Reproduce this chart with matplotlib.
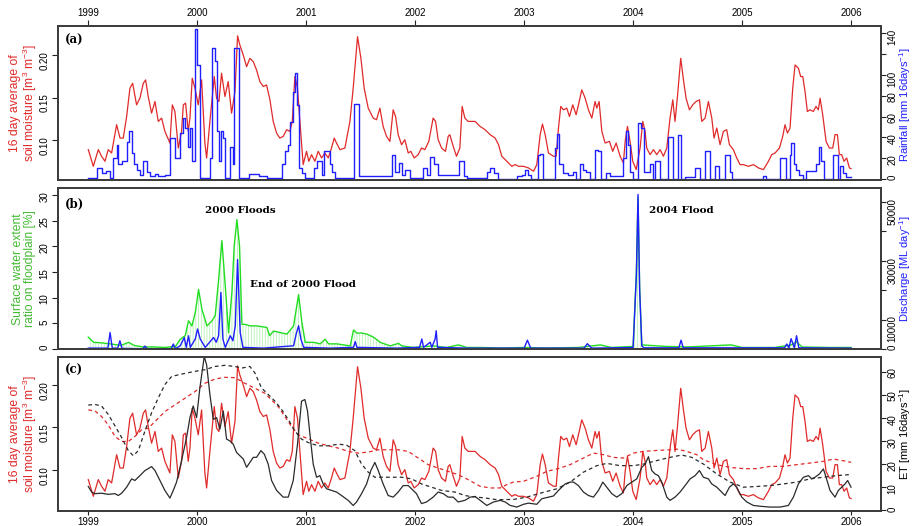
import numpy as np
import matplotlib
matplotlib.use("Agg")
import matplotlib.pyplot as plt

plt.rcParams['font.family'] = ['Liberation Sans', 'DejaVu Sans']
plt.rcParams['mathtext.default'] = 'regular'
plt.rcParams['hatch.linewidth'] = 0.5

# ---- data (decimal year, value) ----
soil_moisture = [
    (1999.000, 0.0887), (1999.046, 0.0691), (1999.092, 0.0887), (1999.122, 0.0809), (1999.153, 0.0750),
    (1999.183, 0.0887), (1999.214, 0.0848), (1999.260, 0.1180), (1999.291, 0.1023), (1999.321, 0.1023),
    (1999.352, 0.1277), (1999.382, 0.1609), (1999.407, 0.1668), (1999.443, 0.1414), (1999.474, 0.1492),
    (1999.505, 0.1668), (1999.526, 0.1707), (1999.550, 0.1512), (1999.581, 0.1316), (1999.612, 0.1453),
    (1999.642, 0.1219), (1999.673, 0.1258), (1999.703, 0.1102), (1999.749, 0.0965), (1999.771, 0.1414),
    (1999.795, 0.1336), (1999.826, 0.0906), (1999.856, 0.1102), (1999.872, 0.1414), (1999.893, 0.1434),
    (1999.917, 0.1102), (1999.933, 0.1258), (1999.954, 0.1727), (1999.979, 0.1609), (2000.009, 0.1414),
    (2000.040, 0.1707), (2000.070, 0.0965), (2000.086, 0.0789), (2000.116, 0.1219), (2000.156, 0.1746),
    (2000.177, 0.1492), (2000.199, 0.1453), (2000.223, 0.1785), (2000.254, 0.1512), (2000.284, 0.1687),
    (2000.315, 0.1316), (2000.346, 0.1570), (2000.370, 0.2225), (2000.391, 0.2117), (2000.422, 0.2000),
    (2000.453, 0.1863), (2000.483, 0.1961), (2000.514, 0.1922), (2000.544, 0.1824), (2000.575, 0.1687),
    (2000.606, 0.1629), (2000.636, 0.1648), (2000.667, 0.1473), (2000.697, 0.1219), (2000.728, 0.1082),
    (2000.758, 0.1023), (2000.789, 0.1043), (2000.820, 0.1121), (2000.850, 0.1102), (2000.872, 0.1219),
    (2000.896, 0.1746), (2000.920, 0.1609), (2000.942, 0.1219), (2000.972, 0.0711), (2001.003, 0.0867),
    (2001.024, 0.0750), (2001.049, 0.0828), (2001.080, 0.0750), (2001.110, 0.0867), (2001.141, 0.0789),
    (2001.171, 0.0848), (2001.202, 0.0789), (2001.232, 0.0906), (2001.257, 0.1023), (2001.278, 0.0965),
    (2001.309, 0.0887), (2001.355, 0.0906), (2001.401, 0.1219), (2001.431, 0.1609), (2001.471, 0.2215),
    (2001.502, 0.1961), (2001.532, 0.1609), (2001.569, 0.1375), (2001.615, 0.1258), (2001.645, 0.1238),
    (2001.676, 0.1375), (2001.706, 0.1160), (2001.737, 0.1043), (2001.768, 0.0984), (2001.798, 0.1355),
    (2001.820, 0.1277), (2001.844, 0.1063), (2001.875, 0.0945), (2001.905, 0.1004), (2001.936, 0.0848),
    (2001.960, 0.0867), (2001.991, 0.0789), (2002.028, 0.0828), (2002.058, 0.0906), (2002.089, 0.0887),
    (2002.125, 0.0984), (2002.165, 0.1258), (2002.187, 0.1219), (2002.211, 0.1004), (2002.242, 0.0906),
    (2002.278, 0.0867), (2002.303, 0.1043), (2002.318, 0.1063), (2002.349, 0.0926), (2002.379, 0.0809),
    (2002.410, 0.0906), (2002.431, 0.1395), (2002.456, 0.1258), (2002.486, 0.1219), (2002.550, 0.1219),
    (2002.596, 0.1160), (2002.642, 0.1121), (2002.688, 0.1063), (2002.734, 0.1023), (2002.765, 0.0945),
    (2002.795, 0.0809), (2002.841, 0.0750), (2002.887, 0.0691), (2002.917, 0.0711), (2002.948, 0.0691),
    (2002.994, 0.0691), (2003.040, 0.0672), (2003.086, 0.0633), (2003.116, 0.0711), (2003.147, 0.1063),
    (2003.168, 0.1188), (2003.193, 0.1063), (2003.223, 0.0848), (2003.269, 0.0809), (2003.294, 0.0809),
    (2003.315, 0.1141), (2003.336, 0.1395), (2003.361, 0.1355), (2003.391, 0.1375), (2003.416, 0.1277),
    (2003.446, 0.1414), (2003.477, 0.1297), (2003.502, 0.1434), (2003.529, 0.1590), (2003.560, 0.1492),
    (2003.590, 0.1355), (2003.621, 0.1258), (2003.651, 0.1453), (2003.667, 0.1375), (2003.688, 0.1453),
    (2003.713, 0.1102), (2003.743, 0.0965), (2003.783, 0.0984), (2003.813, 0.0867), (2003.844, 0.0965),
    (2003.881, 0.0809), (2003.911, 0.0730), (2003.927, 0.0984), (2003.948, 0.1160), (2003.972, 0.0984),
    (2003.997, 0.0750), (2004.028, 0.0652), (2004.064, 0.0906), (2004.089, 0.1219), (2004.110, 0.1102),
    (2004.125, 0.0906), (2004.156, 0.0828), (2004.187, 0.0887), (2004.217, 0.0828), (2004.248, 0.0887),
    (2004.278, 0.0809), (2004.309, 0.0906), (2004.339, 0.1258), (2004.364, 0.1473), (2004.385, 0.1219),
    (2004.407, 0.1512), (2004.437, 0.1961), (2004.462, 0.1707), (2004.486, 0.1492), (2004.517, 0.1355),
    (2004.547, 0.1414), (2004.578, 0.1453), (2004.609, 0.1473), (2004.630, 0.1219), (2004.661, 0.1258),
    (2004.691, 0.1453), (2004.722, 0.1258), (2004.743, 0.1023), (2004.768, 0.1141), (2004.798, 0.0945),
    (2004.829, 0.1102), (2004.859, 0.1121), (2004.884, 0.0945), (2004.920, 0.0887), (2004.951, 0.0789),
    (2004.982, 0.0711), (2005.012, 0.0711), (2005.058, 0.0691), (2005.104, 0.0711), (2005.150, 0.0672),
    (2005.196, 0.0652), (2005.242, 0.0750), (2005.272, 0.0828), (2005.303, 0.0848), (2005.343, 0.0906),
    (2005.373, 0.1043), (2005.394, 0.1180), (2005.416, 0.1082), (2005.440, 0.1141), (2005.465, 0.1609),
    (2005.486, 0.1883), (2005.517, 0.1844), (2005.538, 0.1746), (2005.557, 0.1746), (2005.578, 0.1570),
    (2005.599, 0.1336), (2005.624, 0.1355), (2005.654, 0.1336), (2005.679, 0.1395), (2005.700, 0.1355),
    (2005.716, 0.1492), (2005.740, 0.1297), (2005.771, 0.0984), (2005.801, 0.0906), (2005.832, 0.0906),
    (2005.853, 0.1063), (2005.875, 0.1063), (2005.893, 0.0828), (2005.914, 0.0828), (2005.936, 0.0750),
    (2005.960, 0.0789), (2005.985, 0.0672), (2006.000, 0.0664),
]

# mean soil moisture (dashed red, panel c)
soil_moisture_mean = [
    (1999.000, 0.1707), (1999.061, 0.1695), (1999.122, 0.1629), (1999.183, 0.1531), (1999.245, 0.1395),
    (1999.306, 0.1336), (1999.367, 0.1336), (1999.428, 0.1395), (1999.489, 0.1473), (1999.550, 0.1492),
    (1999.612, 0.1570), (1999.703, 0.1688), (1999.795, 0.1766), (1999.887, 0.1844), (1999.979, 0.1922),
    (2000.070, 0.2020), (2000.162, 0.2070), (2000.254, 0.2090), (2000.346, 0.2086), (2000.437, 0.2020),
    (2000.529, 0.1961), (2000.621, 0.1902), (2000.682, 0.1824), (2000.743, 0.1746), (2000.804, 0.1629),
    (2000.865, 0.1512), (2000.927, 0.1414), (2001.018, 0.1367), (2001.110, 0.1316), (2001.202, 0.1285),
    (2001.294, 0.1258), (2001.385, 0.1219), (2001.477, 0.1199), (2001.569, 0.1211), (2001.661, 0.1238),
    (2001.752, 0.1238), (2001.844, 0.1238), (2001.936, 0.1219), (2002.028, 0.1141), (2002.119, 0.1063),
    (2002.211, 0.1023), (2002.303, 0.0984), (2002.394, 0.0945), (2002.486, 0.0887), (2002.596, 0.0809),
    (2002.688, 0.0789), (2002.780, 0.0789), (2002.841, 0.0828), (2002.902, 0.0859), (2002.994, 0.0867),
    (2003.116, 0.0926), (2003.208, 0.0984), (2003.330, 0.1023), (2003.422, 0.1063), (2003.544, 0.1141),
    (2003.636, 0.1199), (2003.728, 0.1180), (2003.820, 0.1148), (2003.911, 0.1141), (2004.003, 0.1199),
    (2004.095, 0.1219), (2004.217, 0.1230), (2004.339, 0.1238), (2004.401, 0.1246), (2004.492, 0.1219),
    (2004.584, 0.1180), (2004.645, 0.1121), (2004.768, 0.1063), (2004.890, 0.1031), (2005.012, 0.1016),
    (2005.135, 0.1016), (2005.257, 0.1043), (2005.379, 0.1043), (2005.502, 0.1063), (2005.624, 0.1082),
    (2005.746, 0.1102), (2005.838, 0.1129), (2005.930, 0.1109), (2006.000, 0.1090),
]

# 16-day rainfall (mm), value holds from the given date on
rainfall = [
    (1999.000, 1), (1999.076, 11), (1999.122, 6), (1999.159, 8), (1999.199, 1), (1999.229, 20),
    (1999.260, 33), (1999.275, 14), (1999.306, 17), (1999.352, 36), (1999.373, 46), (1999.398, 25),
    (1999.422, 14), (1999.443, 9), (1999.474, 4), (1999.505, 17), (1999.535, 7), (1999.566, 3),
    (1999.612, 5), (1999.642, 3), (1999.703, 4), (1999.749, 39), (1999.795, 20), (1999.841, 44),
    (1999.865, 59), (1999.887, 49), (1999.911, 31), (1999.933, 49), (1999.954, 17), (1999.979, 144),
    (1999.994, 110), (2000.024, 1), (2000.120, 20), (2000.135, 126), (2000.166, 113), (2000.181, 46),
    (2000.196, 17), (2000.218, 46), (2000.236, 39), (2000.257, 1), (2000.297, 31), (2000.328, 14),
    (2000.340, 126), (2000.380, 1), (2000.471, 5), (2000.563, 3), (2000.640, 1), (2000.777, 14),
    (2000.808, 27), (2000.829, 33), (2000.854, 55), (2000.878, 84), (2000.893, 102), (2000.915, 71),
    (2000.936, 11), (2000.961, 6), (2000.991, 1), (2001.068, 11), (2001.098, 17), (2001.144, 4),
    (2001.166, 27), (2001.214, 14), (2001.236, 7), (2001.267, 1), (2001.435, 72), (2001.481, 3),
    (2001.786, 23), (2001.817, 7), (2001.848, 15), (2001.878, 4), (2001.909, 9), (2001.955, 1),
    (2002.071, 11), (2002.107, 4), (2002.138, 21), (2002.169, 14), (2002.205, 4), (2002.398, 17),
    (2002.444, 3), (2002.474, 1), (2002.658, 7), (2002.689, 11), (2002.719, 6), (2002.761, 0),
    (2002.930, 3), (2002.976, 4), (2003.006, 9), (2003.037, 4), (2003.067, 0), (2003.128, 23),
    (2003.144, 24), (2003.174, 0), (2003.281, 30), (2003.303, 43), (2003.321, 14), (2003.352, 6),
    (2003.404, 4), (2003.450, 7), (2003.480, 0), (2003.511, 14), (2003.541, 9), (2003.572, 7),
    (2003.602, 0), (2003.648, 28), (2003.679, 27), (2003.709, 0), (2003.749, 6), (2003.786, 3),
    (2003.908, 20), (2003.933, 46), (2003.954, 33), (2003.969, 7), (2004.000, 0), (2004.046, 54),
    (2004.076, 49), (2004.098, 7), (2004.153, 14), (2004.183, 0), (2004.199, 17), (2004.245, 0),
    (2004.321, 40), (2004.367, 0), (2004.413, 42), (2004.443, 0), (2004.474, 2), (2004.566, 11),
    (2004.612, 0), (2004.657, 27), (2004.703, 0), (2004.749, 12), (2004.789, 0), (2004.841, 23),
    (2004.887, 7), (2004.911, 0), (2005.193, 3), (2005.223, 0), (2005.352, 20), (2005.401, 0),
    (2005.437, 23), (2005.453, 35), (2005.474, 14), (2005.498, 9), (2005.523, 4), (2005.560, 0),
    (2005.584, 8), (2005.682, 14), (2005.706, 31), (2005.728, 17), (2005.749, 0), (2005.835, 23),
    (2005.881, 0), (2005.902, 12), (2005.927, 6), (2005.957, 2), (2006.000, 2),
]

# surface water extent ratio on floodplain (%)
surface_water = [
    (1999.000, 2.3), (1999.050, 1.3), (1999.120, 1.2), (1999.200, 1.0), (1999.300, 0.7), (1999.370, 1.3),
    (1999.420, 0.7), (1999.500, 0.4), (1999.600, 0.4), (1999.700, 0.3), (1999.800, 0.5), (1999.844, 1.9),
    (1999.890, 2.6), (1999.920, 5.5), (1999.951, 4.5), (1999.982, 7.1), (2000.012, 11.6), (2000.043, 7.7),
    (2000.089, 4.5), (2000.135, 5.5), (2000.165, 6.5), (2000.196, 13.5), (2000.226, 21.1), (2000.257, 12.3),
    (2000.287, 3.2), (2000.318, 11.0), (2000.339, 20.0), (2000.364, 25.2), (2000.388, 20.0), (2000.410, 4.8),
    (2000.440, 4.8), (2000.486, 4.5), (2000.547, 4.5), (2000.639, 4.2), (2000.664, 2.6), (2000.700, 3.5),
    (2000.761, 3.2), (2000.823, 2.9), (2000.884, 4.5), (2000.930, 10.6), (2000.960, 5.2), (2000.991, 1.3),
    (2001.067, 1.3), (2001.128, 1.0), (2001.174, 1.9), (2001.205, 1.0), (2001.281, 1.0), (2001.404, 0.6),
    (2001.434, 3.7), (2001.465, 3.1), (2001.511, 3.1), (2001.557, 2.9), (2001.618, 2.3), (2001.679, 1.3),
    (2001.771, 0.6), (2001.847, 1.1), (2001.878, 0.6), (2001.985, 0.3), (2002.168, 0.6), (2002.290, 0.3),
    (2002.397, 0.8), (2002.474, 0.3), (2002.596, 0.3), (2002.800, 0.2), (2003.000, 0.3), (2003.200, 0.2),
    (2003.500, 0.3), (2003.700, 0.8), (2003.800, 0.3), (2004.000, 0.5), (2004.030, 15.0), (2004.045, 29.5),
    (2004.060, 12.0), (2004.080, 0.8), (2004.300, 0.5), (2004.500, 0.4), (2004.900, 0.8), (2005.000, 0.3),
    (2005.300, 0.3), (2005.450, 0.8), (2005.500, 1.4), (2005.550, 0.4), (2005.800, 0.3), (2006.000, 0.3),
]

# river discharge (ML/day)
discharge = [
    (1999.000, 300), (1999.180, 300), (1999.200, 5600), (1999.220, 300), (1999.270, 300), (1999.290, 2800),
    (1999.310, 200), (1999.500, 100), (1999.520, 1000), (1999.540, 100), (1999.760, 100), (1999.780, 1700),
    (1999.800, 100), (1999.844, 1100), (1999.881, 3900), (1999.899, 560), (1999.920, 4500), (1999.936, 560),
    (1999.982, 3400), (2000.003, 6800), (2000.027, 3400), (2000.073, 560), (2000.150, 3900), (2000.174, 2300),
    (2000.196, 4500), (2000.217, 19200), (2000.235, 3400), (2000.257, 560), (2000.303, 4500), (2000.327, 2800),
    (2000.349, 7900), (2000.370, 30400), (2000.394, 5600), (2000.419, 560), (2000.608, 300), (2000.884, 1100),
    (2000.908, 5100), (2000.930, 7900), (2000.951, 3400), (2000.976, 560), (2001.220, 300), (2001.434, 560),
    (2001.450, 2500), (2001.465, 560), (2001.832, 300), (2002.040, 560), (2002.061, 3400), (2002.077, 560),
    (2002.138, 2300), (2002.153, 560), (2002.183, 3400), (2002.193, 6200), (2002.205, 560), (2002.474, 300),
    (2002.800, 300), (2003.000, 300), (2003.030, 3000), (2003.060, 300), (2003.550, 300), (2003.580, 1800),
    (2003.620, 300), (2004.000, 500), (2004.030, 25000), (2004.045, 52500), (2004.060, 20000), (2004.080, 1000),
    (2004.100, 400), (2004.420, 400), (2004.440, 3000), (2004.460, 400), (2005.390, 400), (2005.410, 1700),
    (2005.430, 400), (2005.450, 3500), (2005.480, 400), (2005.500, 4500), (2005.520, 400), (2006.000, 300),
]

# evapotranspiration (mm/16 days)
et = [
    (1999.000, 10.3), (1999.031, 7.9), (1999.061, 7.2), (1999.122, 7.4), (1999.183, 6.9), (1999.245, 7.2),
    (1999.275, 6.4), (1999.306, 7.4), (1999.352, 10.0), (1999.398, 13.6), (1999.428, 12.9), (1999.474, 15.0),
    (1999.520, 17.2), (1999.581, 18.9), (1999.612, 17.2), (1999.657, 12.9), (1999.703, 8.6), (1999.749, 5.3),
    (1999.780, 8.6), (1999.810, 12.2), (1999.856, 21.5), (1999.902, 31.5), (1999.933, 40.1), (1999.963, 45.1),
    (1999.994, 40.1), (2000.024, 52.9), (2000.064, 66.5), (2000.086, 62.9), (2000.116, 50.1), (2000.147, 39.3),
    (2000.177, 40.1), (2000.208, 35.1), (2000.239, 42.9), (2000.269, 30.8), (2000.300, 30.0), (2000.330, 28.6),
    (2000.361, 25.0), (2000.391, 23.6), (2000.422, 22.2), (2000.453, 18.6), (2000.483, 20.7), (2000.514, 22.9),
    (2000.544, 22.9), (2000.584, 25.8), (2000.615, 24.3), (2000.651, 20.0), (2000.682, 12.9), (2000.728, 8.6),
    (2000.789, 5.7), (2000.835, 5.7), (2000.881, 12.9), (2000.920, 28.6), (2000.957, 47.2), (2000.988, 47.9),
    (2001.012, 42.9), (2001.034, 32.9), (2001.064, 20.0), (2001.095, 14.3), (2001.125, 15.0), (2001.156, 11.4),
    (2001.187, 9.3), (2001.232, 8.6), (2001.278, 7.9), (2001.324, 6.4), (2001.385, 4.3), (2001.431, 2.1),
    (2001.462, 3.6), (2001.508, 7.2), (2001.554, 11.4), (2001.593, 17.2), (2001.630, 20.7), (2001.661, 17.2),
    (2001.706, 11.4), (2001.752, 6.4), (2001.798, 5.7), (2001.844, 7.9), (2001.890, 10.7), (2001.936, 10.7),
    (2001.982, 8.6), (2002.012, 7.2), (2002.058, 2.9), (2002.104, 3.6), (2002.165, 5.7), (2002.211, 7.9),
    (2002.257, 7.2), (2002.303, 5.7), (2002.349, 5.7), (2002.394, 3.6), (2002.456, 4.3), (2002.505, 5.7),
    (2002.550, 6.0), (2002.596, 4.3), (2002.657, 2.1), (2002.719, 3.6), (2002.780, 4.3), (2002.826, 3.6),
    (2002.872, 2.1), (2002.933, 1.4), (2002.994, 2.6), (2003.040, 3.1), (2003.116, 2.6), (2003.162, 5.0),
    (2003.223, 5.7), (2003.269, 6.2), (2003.315, 8.6), (2003.376, 11.4), (2003.422, 12.2), (2003.453, 12.2),
    (2003.498, 10.7), (2003.544, 7.9), (2003.590, 6.4), (2003.636, 5.7), (2003.682, 8.6), (2003.722, 12.2),
    (2003.758, 10.0), (2003.804, 7.2), (2003.850, 5.7), (2003.896, 7.2), (2003.942, 10.7), (2003.988, 12.2),
    (2004.034, 13.6), (2004.080, 18.6), (2004.110, 20.0), (2004.141, 23.2), (2004.171, 17.2), (2004.202, 15.7),
    (2004.232, 15.0), (2004.263, 12.2), (2004.309, 5.7), (2004.339, 4.3), (2004.385, 5.7), (2004.431, 7.9),
    (2004.477, 10.7), (2004.523, 13.6), (2004.569, 15.0), (2004.609, 17.2), (2004.645, 14.3), (2004.691, 13.6),
    (2004.722, 11.4), (2004.768, 10.0), (2004.813, 7.9), (2004.844, 6.4), (2004.884, 10.0), (2004.920, 11.4),
    (2004.951, 10.0), (2004.997, 5.7), (2005.043, 3.6), (2005.104, 2.1), (2005.180, 1.7), (2005.257, 1.4),
    (2005.349, 1.4), (2005.425, 2.1), (2005.471, 5.7), (2005.517, 11.4), (2005.563, 14.3), (2005.609, 15.0),
    (2005.639, 13.6), (2005.670, 14.3), (2005.709, 15.7), (2005.746, 17.9), (2005.771, 14.3), (2005.807, 8.6),
    (2005.853, 5.7), (2005.884, 8.6), (2005.914, 10.0), (2005.945, 11.4), (2005.969, 12.9), (2006.000, 10.0),
]

# mean ET (dashed black, panel c)
et_mean = [
    (1999.000, 45.5), (1999.061, 45.8), (1999.122, 45.1), (1999.183, 41.5), (1999.245, 36.5), (1999.306, 31.5),
    (1999.367, 25.8), (1999.413, 23.6), (1999.459, 25.8), (1999.520, 34.3), (1999.581, 42.2), (1999.642, 48.6),
    (1999.703, 54.4), (1999.765, 57.9), (1999.856, 58.9), (1999.979, 60.1), (2000.070, 60.8), (2000.162, 62.2),
    (2000.254, 62.7), (2000.346, 62.2), (2000.407, 61.5), (2000.483, 62.2), (2000.529, 59.4), (2000.590, 52.9),
    (2000.651, 50.1), (2000.713, 47.2), (2000.774, 43.6), (2000.835, 39.3), (2000.896, 34.3), (2000.957, 30.8),
    (2001.018, 29.3), (2001.110, 27.9), (2001.202, 27.9), (2001.294, 28.6), (2001.370, 28.2), (2001.446, 25.8),
    (2001.508, 20.0), (2001.569, 16.5), (2001.630, 14.3), (2001.752, 14.3), (2001.875, 14.3), (2001.966, 13.6),
    (2002.058, 11.4), (2002.150, 10.0), (2002.242, 8.6), (2002.364, 7.9), (2002.456, 6.4), (2002.505, 6.0),
    (2002.627, 5.4), (2002.749, 4.6), (2002.902, 4.7), (2003.024, 5.7), (2003.147, 7.4), (2003.300, 9.3),
    (2003.422, 12.2), (2003.544, 16.5), (2003.667, 19.3), (2003.758, 20.3), (2003.881, 19.3), (2004.003, 19.3),
    (2004.095, 20.0), (2004.217, 21.5), (2004.339, 22.9), (2004.446, 23.9), (2004.538, 22.9), (2004.645, 20.0),
    (2004.768, 15.7), (2004.890, 12.2), (2005.012, 10.0), (2005.135, 10.3), (2005.257, 10.7), (2005.379, 11.4),
    (2005.502, 12.2), (2005.624, 13.6), (2005.746, 14.3), (2005.869, 15.0), (2006.000, 15.5),
]

years = [1999, 2000, 2001, 2002, 2003, 2004, 2005, 2006]

sm_t, sm_v = np.array(soil_moisture).T
smm_t, smm_v = np.array(soil_moisture_mean).T
rain_t, rain_v = np.array(rainfall).T
sw_t, sw_v = np.array(surface_water).T
q_t, q_v = np.array(discharge).T
et_t, et_v = np.array(et).T
etm_t, etm_v = np.array(et_mean).T

RED = '#e02a2a'
BLUE = '#1f1fff'
GREEN = '#22dd22'
BLACK = '#2a2a2a'
FRAME = '#3c3c3c'
sm_label = '16 day average of\nsoil moisture [m$^3$ m$^{-3}$]'


def style(ax):
    for s in ax.spines.values():
        s.set_color(FRAME)
        s.set_linewidth(1.3)
    ax.tick_params(length=4, width=0.8, color='#222222', labelsize=7, pad=2)
    ax.tick_params(axis='y', labelrotation=90)


def no_x(ax):
    ax.tick_params(axis='x', which='both', bottom=False, top=False,
                   labelbottom=False, labeltop=False)


fig = plt.figure(figsize=(9.13, 5.26), dpi=100)
W, H = 913.0, 526.0
left, width = 58 / W, 823 / W
ax_a = fig.add_axes([left, 1 - 180 / H, width, 154 / H])
ax_b = fig.add_axes([left, 1 - 349 / H, width, 161 / H])
ax_c = fig.add_axes([left, 1 - 511 / H, width, 154 / H])
xlim = (1998.722, 2006.275)

# ---- (a) soil moisture and rainfall ----
ax_a.plot(sm_t, sm_v, color=RED, lw=0.9)
ax_a.set_xlim(xlim)
ax_a.set_ylim(0.053, 0.2341)
ax_a.set_yticks([0.10, 0.15, 0.20])
ax_a.set_yticklabels(['0.10', '0.15', '0.20'])
ax_a.set_xticks(years)
ax_a.set_xticklabels([str(y) for y in years])
style(ax_a)
ax_a.tick_params(axis='x', bottom=False, labelbottom=False, top=True, labeltop=True)
ax_a2 = ax_a.twinx()
ax_a2.plot(rain_t, rain_v, color=BLUE, lw=1.0, drawstyle='steps-post')
ax_a2.set_ylim(-1, 147)
ax_a2.set_yticks([0, 20, 40, 60, 80, 100, 120, 140])
ax_a2.set_yticklabels(['0', '20', '40', '60', '80', '100', '', '140'])
style(ax_a2)
no_x(ax_a2)
ax_a.text(0.008, 0.905, '(a)', transform=ax_a.transAxes, family='DejaVu Serif',
          fontweight='bold', fontsize=8.5, va='center')

# ---- (b) surface water and discharge ----
ax_b.fill_between(sw_t, 0, sw_v, facecolor='none', edgecolor='#a9efa9',
                  hatch='||||||', linewidth=0)
ax_b.plot(sw_t, sw_v, color=GREEN, lw=1.0)
ax_b.set_xlim(xlim)
ax_b.set_ylim(0, 31.35)
ax_b.set_yticks([0, 5, 10, 15, 20, 25, 30])
style(ax_b)
no_x(ax_b)
ax_b2 = ax_b.twinx()
ax_b2.plot(q_t, q_v, color=BLUE, lw=1.0)
ax_b2.set_ylim(0, 54700)
ax_b2.set_yticks([0, 10000, 20000, 30000, 40000, 50000])
ax_b2.set_yticklabels(['0', '10000', '', '30000', '', '50000'])
style(ax_b2)
no_x(ax_b2)
ax_b.text(0.008, 0.90, '(b)', transform=ax_b.transAxes, family='DejaVu Serif',
          fontweight='bold', fontsize=8.5, va='center')
ann = dict(family='DejaVu Serif', fontweight='bold', fontsize=7.5, ha='center', va='center')
ax_b.text(2000.394, 26.9, '2000 Floods', **ann)
ax_b.text(2000.972, 12.6, 'End of 2000 Flood', **ann)
ax_b.text(2004.44, 26.9, '2004 Flood', **ann)

# ---- (c) soil moisture and ET ----
ax_c.plot(smm_t, smm_v, color=RED, lw=0.9, ls=(0, (3, 2.5)))
ax_c.plot(sm_t, sm_v, color=RED, lw=0.9)
ax_c.set_xlim(xlim)
ax_c.set_ylim(0.0518, 0.2329)
ax_c.set_yticks([0.10, 0.15, 0.20])
ax_c.set_yticklabels(['0.10', '0.15', '0.20'])
ax_c.set_xticks(years)
ax_c.set_xticklabels([str(y) for y in years])
style(ax_c)
ax_c.tick_params(axis='x', length=3, pad=1)
ax_c2 = ax_c.twinx()
ax_c2.plot(etm_t, etm_v, color=BLACK, lw=0.9, ls=(0, (3, 2.5)))
ax_c2.plot(et_t, et_v, color=BLACK, lw=0.9)
ax_c2.set_ylim(-0.3, 66.3)
ax_c2.set_yticks([0, 10, 20, 30, 40, 50, 60])
style(ax_c2)
no_x(ax_c2)
ax_c.text(0.008, 0.915, '(c)', transform=ax_c.transAxes, family='DejaVu Serif',
          fontweight='bold', fontsize=8.5, va='center')

for ax in (ax_a2, ax_b2, ax_c2):
    ax.tick_params(axis='y', length=3.5, pad=1.2)

# ---- axis titles ----
lab = dict(rotation=90, ha='center', va='center', fontsize=8.7, linespacing=1.05)
rlab = dict(rotation=90, ha='center', va='center', fontsize=8)
fig.text(24 / W, 1 - 103 / H, sm_label, color=RED, **lab)
fig.text(24 / W, 1 - 269 / H, 'Surface water extent\nratio on floodplain [%]', color='#44bb33', **lab)
fig.text(24 / W, 1 - 434 / H, sm_label, color=RED, **lab)
fig.text(905.5 / W, 1 - 105 / H, 'Rainfall [mm 16days$^{-1}$]', color=BLUE, **rlab)
fig.text(905.5 / W, 1 - 269 / H, 'Discharge [ML day$^{-1}$]', color=BLUE, **rlab)
fig.text(905.5 / W, 1 - 434 / H, 'ET [mm 16days$^{-1}$]', color='black', **rlab)

fig.savefig('out.png', dpi=100)
